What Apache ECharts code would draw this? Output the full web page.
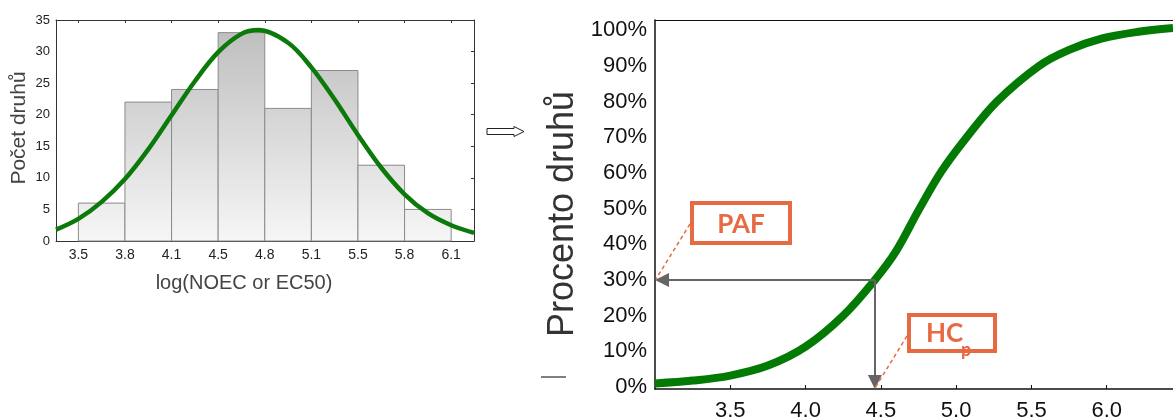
<!DOCTYPE html>
<html><head><meta charset="utf-8">
<script src="https://cdn.jsdelivr.net/npm/echarts@6/dist/echarts.min.js"></script>
<style>html,body{margin:0;padding:0;background:#fff}#c{width:1173px;height:419px}</style>
</head><body><div id="c"></div>
<script>
// ---------- Left: histogram ----------
const binEdgeLabels = ['3.5', '3.8', '4.1', '4.5', '4.8', '5.1', '5.5', '5.8', '6.1'];
const binCounts = [6, 22, 24, 33, 21, 27, 12, 5];
const histYTicks = [0, 5, 10, 15, 20, 25, 30, 35];
// fitted normal curve (x in bin positions, y in counts)
const densityX = [-0.48, 0, 0.5, 1, 1.5, 2, 2.5, 3, 3.5, 3.86, 4.5, 5, 5.5, 6, 6.5, 7, 7.5, 8, 8.49];
const densityY = [1.8, 3.5, 6.2, 9.8, 14.5, 19.9, 25.3, 29.9, 32.8, 33.4, 31.4, 27.5, 22.4, 16.8, 11.6, 7.4, 4.4, 2.5, 1.3];

// ---------- Right: species sensitivity distribution ----------
const ssdX = [3.0, 3.25, 3.5, 3.75, 4.0, 4.25, 4.46, 4.6, 4.75, 4.9, 5.07, 5.27, 5.55, 5.75, 5.97, 6.2, 6.44];
const ssdY = [1.0, 1.8, 3.2, 6.0, 11.3, 20.0, 30.0, 38.0, 49.5, 60.3, 70, 80, 90, 94.5, 97.7, 99.5, 100.6];
const ssdXTicks = [3.5, 4.0, 4.5, 5.0, 5.5, 6.0];
const ssdYTicks = [0, 10, 20, 30, 40, 50, 60, 70, 80, 90, 100];
const hcpValue = 4.46;
const pafValue = 30;

const FONT = '"Liberation Sans", Arial, sans-serif';
const ORANGE = '#E86A43';
const SSD_XMIN = 3.0, SSD_XMAX = 6.44, SSD_YMIN = -0.56, SSD_YMAX = 102.86;

const chart = echarts.init(document.getElementById('c'), null, {renderer: 'canvas'});

const barGradient = new echarts.graphic.LinearGradient(0, 20, 0, 241, [
  {offset: 0, color: '#bcbcbc'}, {offset: 1, color: '#f6f6f6'}
], true);

const option = {
  animation: false,
  backgroundColor: '#ffffff',
  grid: [
    {left: 56, top: 20, width: 418, height: 221, outerBoundsMode: 'none', containLabel: false},
    {left: 655, top: 20, right: 0, height: 369, outerBoundsMode: 'none', containLabel: false}
  ],
  xAxis: [
    {gridIndex: 0, type: 'value', min: -0.48, max: 8.49, position: 'bottom',
      axisLine: {show: true, onZero: false, lineStyle: {color: '#333', width: 1}},
      axisTick: {show: false}, splitLine: {show: false},
      axisLabel: {customValues: binEdgeLabels.map((_, i) => i), formatter: v => binEdgeLabels[Math.round(v)],
        fontSize: 14, color: '#222', margin: 7, fontFamily: FONT}},
    {gridIndex: 0, type: 'value', min: -0.48, max: 8.49, position: 'top',
      axisLine: {show: true, onZero: false, lineStyle: {color: '#333', width: 1}},
      axisTick: {show: true, inside: true, length: 3, customValues: binEdgeLabels.map((_, i) => i), lineStyle: {color: '#333'}},
      axisLabel: {show: false}, splitLine: {show: false}},
    {gridIndex: 1, type: 'value', min: SSD_XMIN, max: SSD_XMAX, position: 'bottom',
      axisLine: {show: true, onZero: false, lineStyle: {color: '#111', width: 1.5}},
      axisTick: {show: true, inside: true, length: 4, customValues: ssdXTicks, lineStyle: {color: '#111', width: 1}},
      axisLabel: {customValues: ssdXTicks, formatter: v => v.toFixed(1), fontSize: 22, color: '#111', margin: 11, fontFamily: FONT},
      splitLine: {show: false}},
    {gridIndex: 1, type: 'value', min: SSD_XMIN, max: SSD_XMAX, position: 'top',
      axisLine: {show: true, onZero: false, lineStyle: {color: '#111', width: 1}},
      axisTick: {show: false}, axisLabel: {show: false}, splitLine: {show: false}}
  ],
  yAxis: [
    {gridIndex: 0, type: 'value', min: 0, max: 35, position: 'left',
      axisLine: {show: true, onZero: false, lineStyle: {color: '#333', width: 1}},
      axisTick: {show: false}, splitLine: {show: false},
      axisLabel: {customValues: histYTicks, fontSize: 13, color: '#222', margin: 6, fontFamily: FONT}},
    {gridIndex: 0, type: 'value', min: 0, max: 35, position: 'right',
      axisLine: {show: true, onZero: false, lineStyle: {color: '#333', width: 1}},
      axisTick: {show: true, inside: true, length: 3, customValues: histYTicks, lineStyle: {color: '#333'}},
      axisLabel: {show: false}, splitLine: {show: false}},
    {gridIndex: 1, type: 'value', min: SSD_YMIN, max: SSD_YMAX, position: 'left',
      axisLine: {show: true, onZero: false, lineStyle: {color: '#111', width: 1.5}},
      axisTick: {show: false}, splitLine: {show: false},
      axisLabel: {customValues: ssdYTicks, formatter: v => v + '%', fontSize: 22, color: '#111', margin: 8,
        padding: [0, 0, 13, 0], fontFamily: FONT}}
  ],
  series: [
    {type: 'custom', xAxisIndex: 0, yAxisIndex: 0, z: 2,
      data: binCounts.map((c, i) => [i, c]),
      renderItem: function (params, api) {
        const i = api.value(0), c = api.value(1);
        const p0 = api.coord([i, 0]);
        const p1 = api.coord([i + 1, c]);
        return {type: 'rect',
          shape: {x: p0[0], y: p1[1], width: p1[0] - p0[0], height: p0[1] - p1[1]},
          style: {fill: barGradient, stroke: '#8a8a8a', lineWidth: 1}};
      }},
    {type: 'line', xAxisIndex: 0, yAxisIndex: 0, z: 3, smooth: 0.35, symbol: 'none',
      data: densityX.map((x, i) => [x, densityY[i]]),
      lineStyle: {color: '#0b7a0b', width: 4.5}},
    {type: 'line', xAxisIndex: 2, yAxisIndex: 2, z: 3, smooth: 0.35, symbol: 'none',
      data: ssdX.map((x, i) => [x, ssdY[i]]),
      lineStyle: {color: '#037a03', width: 8}},
    {type: 'line', xAxisIndex: 2, yAxisIndex: 2, z: 4, symbol: 'none', data: [],
      markLine: {silent: true, animation: false, symbol: ['none', 'triangle'], symbolSize: 14,
        label: {show: false},
        lineStyle: {color: '#656565', width: 2, type: 'solid'},
        emphasis: {disabled: true},
        data: [
          [{coord: [hcpValue, pafValue]}, {coord: [SSD_XMIN + 7 / 150.3, pafValue]}],
          [{coord: [hcpValue, pafValue]}, {coord: [hcpValue, SSD_YMIN + 7 / 3.568]}]
        ]}}
  ],
  graphic: [
    {type: 'text', x: 19, y: 128, rotation: Math.PI / 2,
      style: {text: 'Počet druhů', font: '21px ' + FONT, fill: '#444', align: 'center', verticalAlign: 'middle'}},
    {type: 'text', x: 244, y: 283,
      style: {text: 'log(NOEC or EC50)', font: '20px ' + FONT, fill: '#444', align: 'center', verticalAlign: 'middle'}},
    {type: 'text', x: 563, y: 214, rotation: Math.PI / 2,
      style: {text: 'Procento druhů', font: '36px ' + FONT, fill: '#333', align: 'center', verticalAlign: 'middle'}},
    {type: 'polygon', shape: {points: [[487, 128.5], [514, 128.5], [514, 126.5], [524, 131.5], [514, 136.5], [514, 134.5], [487, 134.5]]},
      style: {fill: '#fff', stroke: '#222', lineWidth: 1}},
    {type: 'line', shape: {x1: 541, y1: 377, x2: 566, y2: 377}, style: {stroke: '#000', lineWidth: 1}},
    // PAF annotation
    {type: 'line', z: 10, shape: {x1: 690, y1: 224, x2: 656, y2: 279}, style: {stroke: ORANGE, lineWidth: 1.5, lineDash: [4, 3]}},
    {type: 'rect', z: 10, shape: {x: 692, y: 203, width: 98, height: 40}, style: {fill: '#fff', stroke: ORANGE, lineWidth: 4}},
    {type: 'text', z: 11, x: 741, y: 225, style: {text: 'PAF', font: 'bold 26px Lato, sans-serif', fill: ORANGE, align: 'center', verticalAlign: 'middle'}},
    // HCp annotation
    {type: 'line', z: 10, shape: {x1: 907, y1: 336, x2: 875, y2: 388}, style: {stroke: ORANGE, lineWidth: 1.5, lineDash: [4, 3]}},
    {type: 'rect', z: 10, shape: {x: 909, y: 315, width: 86, height: 36}, style: {fill: '#fff', stroke: ORANGE, lineWidth: 4}},
    {type: 'text', z: 11, x: 926, y: 334, style: {text: 'HC', font: 'bold 26px Lato, sans-serif', fill: ORANGE, align: 'left', verticalAlign: 'middle'}},
    {type: 'text', z: 11, x: 961, y: 350, style: {text: 'p', font: 'bold 18px Lato, sans-serif', fill: ORANGE, align: 'left', verticalAlign: 'middle'}}
  ]
};
chart.setOption(option);
</script>
</body></html>
